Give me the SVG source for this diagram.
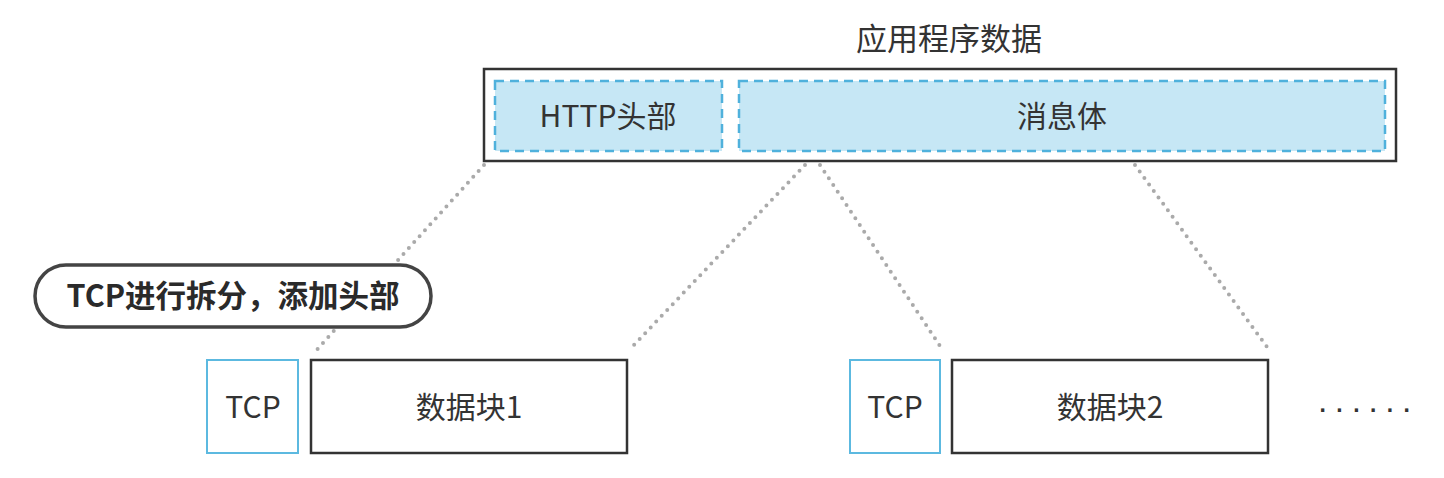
<svg xmlns="http://www.w3.org/2000/svg" width="1444" height="478" viewBox="0 0 1444 478">
<style>
.t{font-family:"Noto Sans CJK SC","Noto Sans",sans-serif;fill:#333;font-size:30px;text-anchor:middle}
.b{font-weight:bold;fill:#2a2a2a;font-size:30.5px}
.dash{fill:#c6e7f5;stroke:#4fb1dc;stroke-width:2.5;stroke-dasharray:9 6}
.blk{fill:#fff;stroke:#333;stroke-width:2.5}
.tcp{fill:#fff;stroke:#5cb9e0;stroke-width:2}
.dot{stroke:#aaa;stroke-width:4;stroke-linecap:round;stroke-dasharray:0 8;fill:none}
</style>
<rect width="1444" height="478" fill="#fff"/>
<g id="connectors">
<line class="dot" x1="484" y1="165" x2="313" y2="354"/>
<line class="dot" x1="805" y1="165" x2="633" y2="346"/>
<line class="dot" x1="820" y1="165" x2="940" y2="346"/>
<line class="dot" x1="1135" y1="165" x2="1267" y2="347"/>
</g>
<g id="appdata">
<text class="t" x="949" y="50" style="font-size:31px">应用程序数据</text>
<rect class="blk" x="484" y="69" width="912" height="92"/>
</g>
<g id="http-header">
<rect class="dash" x="495" y="81" width="227" height="70"/>
<text class="t" x="608" y="127">HTTP头部</text>
</g>
<g id="body">
<rect class="dash" x="739" y="81" width="646" height="70"/>
<text class="t" x="1062" y="127">消息体</text>
</g>
<g id="label">
<rect x="35" y="265" width="396" height="62" rx="31" fill="#fff" stroke="#444" stroke-width="3.5"/>
<text class="t b" x="233" y="307">TCP进行拆分，添加头部</text>
</g>
<g id="tcp1">
<rect class="tcp" x="207" y="360" width="91" height="93"/>
<text class="t" x="253" y="418">TCP</text>
</g>
<g id="block1">
<rect class="blk" x="311" y="360" width="316" height="93"/>
<text class="t" x="469" y="418">数据块1</text>
</g>
<g id="tcp2">
<rect class="tcp" x="850" y="360" width="90" height="93"/>
<text class="t" x="895" y="418">TCP</text>
</g>
<g id="block2">
<rect class="blk" x="952" y="360" width="316" height="93"/>
<text class="t" x="1110" y="418">数据块2</text>
</g>
<g id="more">
<text x="1317" y="419" style="font-family:'Liberation Sans',sans-serif;font-size:34px;fill:#333;letter-spacing:5.5px">······</text>
</g>
</svg>
